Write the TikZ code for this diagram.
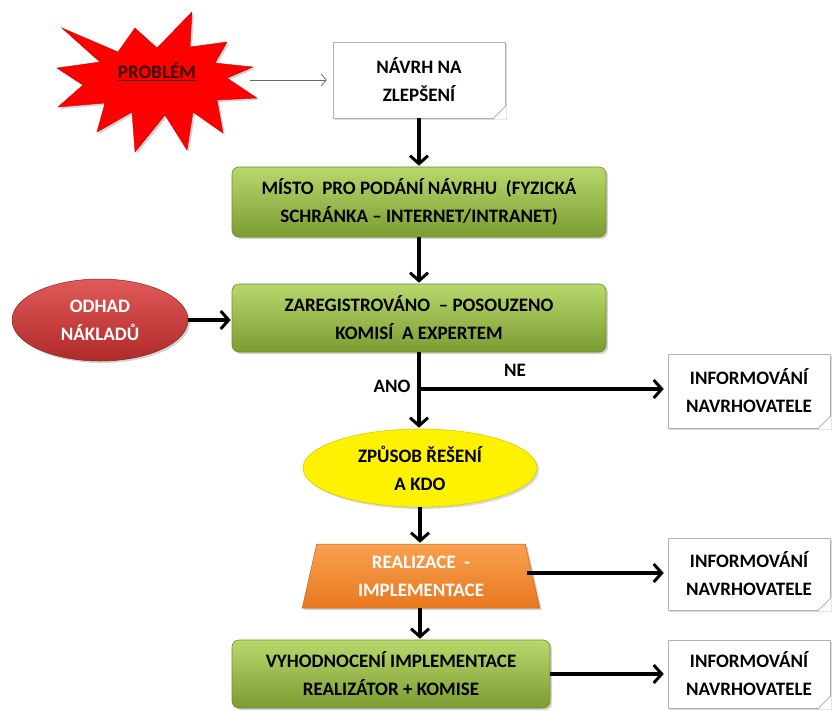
\documentclass[tikz,border=0pt]{standalone}
\usepackage{fontspec}
\setmainfont{Carlito}
\usetikzlibrary{shapes.geometric,shadows,arrows.meta,calc}
\definecolor{gtop}{HTML}{B8D86C}
\definecolor{gbot}{HTML}{7C9C32}
\definecolor{gbord}{HTML}{6E8C30}
\definecolor{rtop}{HTML}{E05A5A}
\definecolor{rbot}{HTML}{B02A2A}
\definecolor{otop}{HTML}{F9A050}
\definecolor{obot}{HTML}{E8781E}
\definecolor{ybord}{HTML}{D8CC00}
\definecolor{darkred}{HTML}{3A0000}
\newcommand{\foldnote}[1]{%
  \fill[white] ($(#1.south east)+(-12,1)$) -- ($(#1.south east)+(1,1)$) -- ($(#1.south east)+(1,-12)$) -- cycle;
  \fill[gray!35] ($(#1.south east)+(-12,0)$) .. controls ($(#1.south east)+(-8,-4)$) .. ($(#1.south east)+(0,-12)$) -- ($(#1.south east)+(-6,-5)$) -- cycle;
  \draw[gray!60,line width=0.6pt] ($(#1.south east)+(-12,0)$) .. controls ($(#1.south east)+(-8,-4)$) .. ($(#1.south east)+(0,-12)$);}
\begin{document}
\begin{tikzpicture}[x=1pt,y=-1pt,
  txt/.style={font=\bfseries\fontsize{19}{28}\selectfont,align=center},
  greenbox/.style={txt,rectangle,rounded corners=7pt,draw=gbord,line width=0.6pt,top color=gtop,bottom color=gbot,drop shadow={opacity=0.35,shadow xshift=2pt,shadow yshift=-2pt}},
  notebox/.style={txt,rectangle,fill=white,draw=gray!60,line width=0.6pt,drop shadow={opacity=0.3,shadow xshift=2pt,shadow yshift=-2pt}},
  flow/.style={line width=3.4pt,-{Straight Barb[length=8pt,width=18pt,line width=3pt]}},
  thin/.style={line width=0.8pt,gray!80!black,-{Straight Barb[length=5pt,width=12pt,line width=0.8pt]}}
]
\path[use as bounding box] (0,0) rectangle (833,710);

% star
\path[fill=red,draw=red!80!black,line width=0.4pt,drop shadow={opacity=0.35,shadow xshift=2pt,shadow yshift=-2pt}]
 (62,28) -- (118,52) -- (135,28) -- (157,48) -- (192,12) -- (190,47) -- (227,42) -- (215,63)
 -- (253,67) -- (227,78) -- (257,98) -- (217,100) -- (223,133) -- (193,112) -- (187,150)
 -- (165,115) -- (135,152) -- (132,112) -- (97,132) -- (105,103) -- (58,107) -- (83,85)
 -- (57,68) -- (100,62) -- cycle;
\node[txt,text=darkred] (prob) at (157,72) {\underline{PROBLÉM}};
\coordinate (probR) at (250,80);

\node[notebox,minimum width=172,minimum height=76] (navrh) at (419,80) {NÁVRH NA\\ZLEPŠENÍ};
\foldnote{navrh}

\node[greenbox,minimum width=374,minimum height=70] (misto) at (419,202) {MÍSTO\ \ PRO PODÁNÍ NÁVRHU\ \ (FYZICKÁ\\SCHRÁNKA -- INTERNET/INTRANET)};
\node[greenbox,minimum width=374,minimum height=68] (zareg) at (419,318) {ZAREGISTROVÁNO\ \ -- POSOUZENO\\KOMISÍ\ \ A EXPERTEM};
\node[txt,ellipse,text=white,minimum width=176,minimum height=82,top color=rtop,bottom color=rbot,draw=rbot!80!black,line width=0.5pt,drop shadow={opacity=0.35,shadow xshift=2pt,shadow yshift=-2pt}] (odhad) at (100,320) {ODHAD\\NÁKLADŮ};

\node[notebox,minimum width=162,minimum height=74] (info1) at (749,391) {INFORMOVÁNÍ\\NAVRHOVATELE};
\foldnote{info1}

\node[txt,ellipse,fill=yellow,draw=ybord,line width=0.6pt,minimum width=234,minimum height=78,drop shadow={opacity=0.3,shadow xshift=2pt,shadow yshift=-2pt}] (zpusob) at (420,468) {ZPŮSOB ŘEŠENÍ\\A KDO};

\node[txt,trapezium,trapezium left angle=79,trapezium right angle=79,trapezium stretches=true,minimum width=238,minimum height=64,text=white,top color=otop,bottom color=obot,draw=obot!85!black,line width=0.5pt,drop shadow={opacity=0.35,shadow xshift=2pt,shadow yshift=-2pt}] (real) at (421,576) {REALIZACE\ \ -\\IMPLEMENTACE};

\node[notebox,minimum width=162,minimum height=72] (info2) at (749,574) {INFORMOVÁNÍ\\NAVRHOVATELE};
\foldnote{info2}

\node[greenbox,minimum width=318,minimum height=68] (vyhod) at (391,674) {VYHODNOCENÍ IMPLEMENTACE\\REALIZÁTOR + KOMISE};

\node[notebox,minimum width=162,minimum height=68] (info3) at (749,674) {INFORMOVÁNÍ\\NAVRHOVATELE};
\foldnote{info3}

% connectors
\draw[thin] (probR) -- ($(navrh.west)+(-6,0)$);
\draw[flow] (navrh.south) -- ($(misto.north)+(0,-1)$);
\draw[flow] (misto.south) -- ($(zareg.north)+(0,-1)$);
\draw[flow] (odhad.east) -- ($(odhad.east -| zareg.west)+(-1,0)$);
\coordinate (jn) at (419,389);
\draw[flow] (zareg.south) -- ($(zpusob.north)+(-1,-1)$);
\draw[flow] (jn) -- ($(jn -| info1.west)+(-4,0)$);
\node[txt] (ano) at (392,386) {ANO};
\node[txt] (ne) at (515,370) {NE};
\draw[flow] (zpusob.south) -- ($(zpusob.south |- real.north)+(0,-1)$);
\draw[flow] ($(real.east)+(-6,-3)$) -- ($(real.east -| info2.west)+(-4,-3)$);
\draw[flow] (zpusob.south |- real.south) -- ($(zpusob.south |- vyhod.north)+(0,-1)$);
\draw[flow] (vyhod.east) -- ($(vyhod.east -| info3.west)+(-4,0)$);
\end{tikzpicture}
\end{document}
